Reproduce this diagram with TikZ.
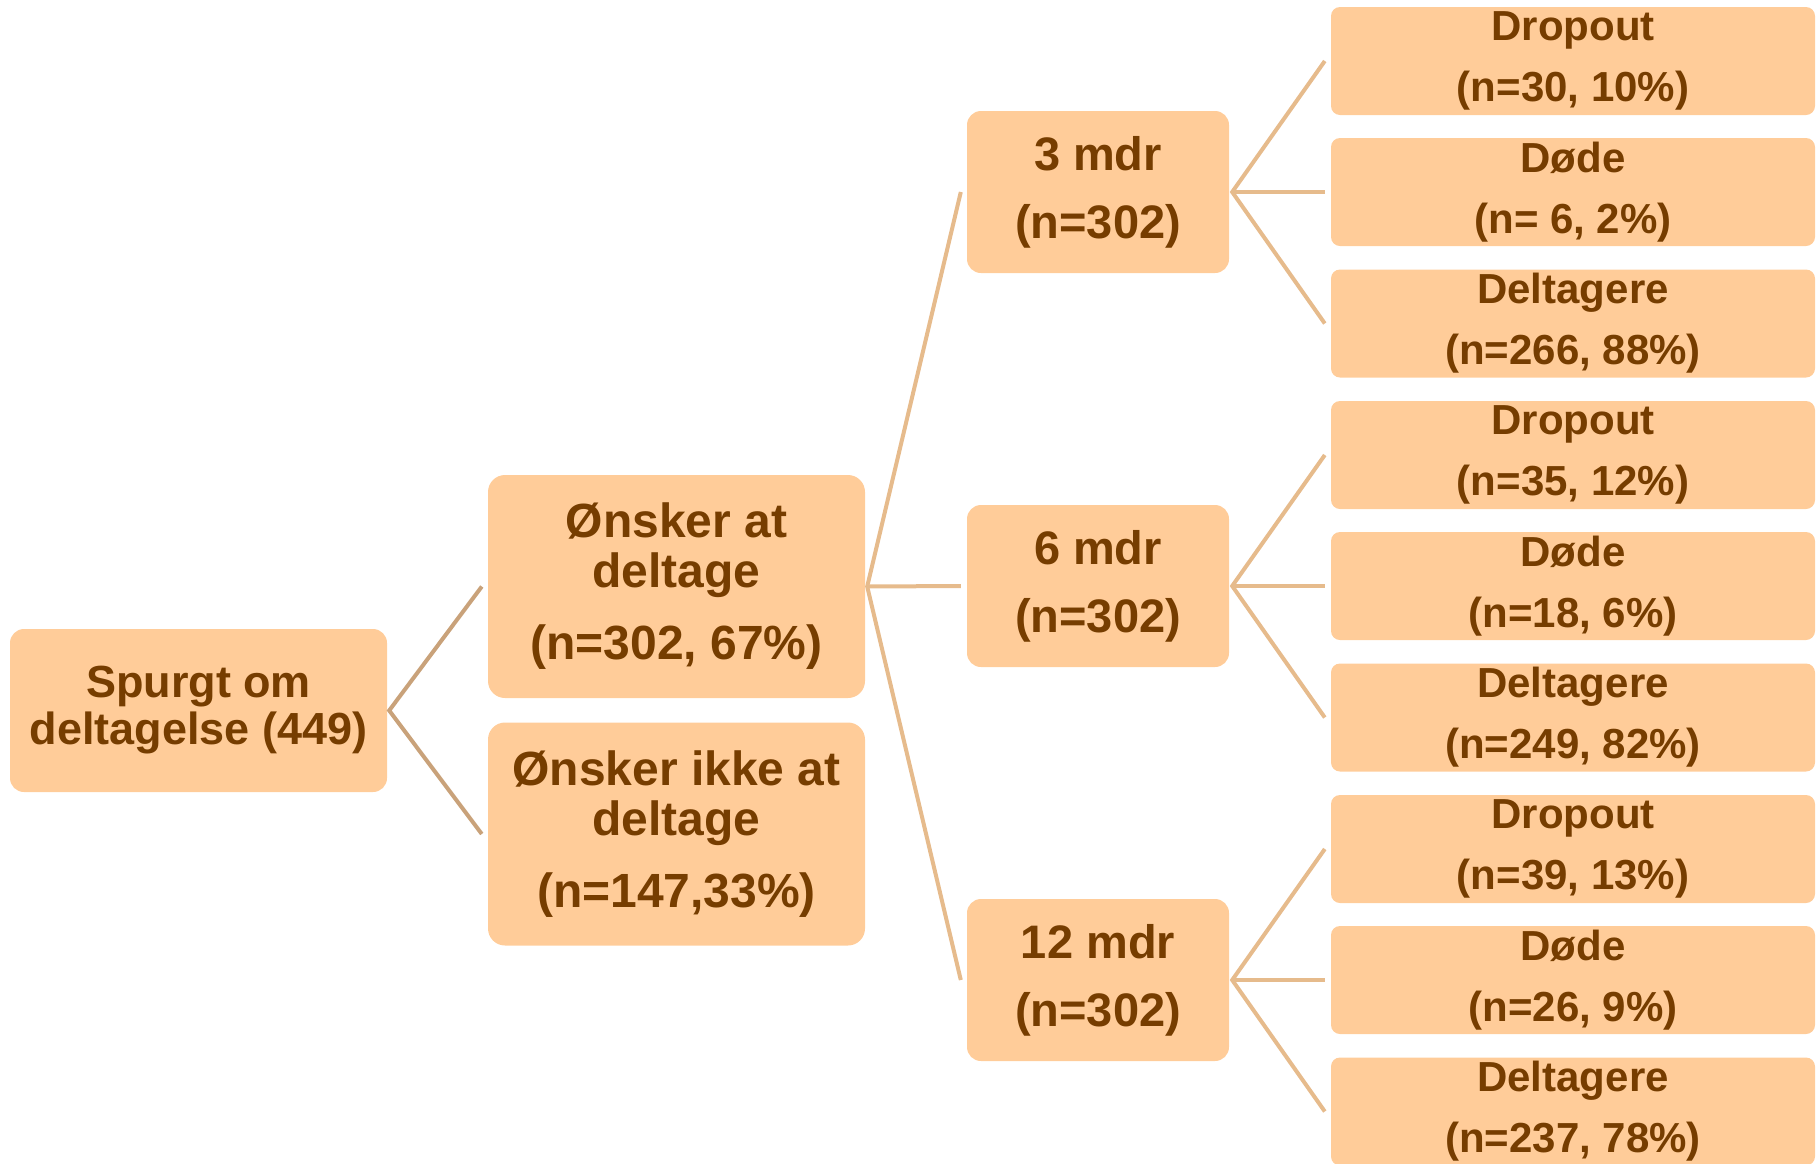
\documentclass[tikz,border=0pt]{standalone}
\usepackage{fontspec}
\setmainfont{Liberation Sans}
\usepackage{tikz}
\usetikzlibrary{positioning}
\usepackage{xcolor}

\definecolor{boxfill}{RGB}{255,204,153}
\definecolor{txtbrown}{RGB}{118,61,0}
\definecolor{rootline}{RGB}{201,162,122}
\definecolor{branchline}{RGB}{230,187,140}

\tikzset{
    box/.style={fill=boxfill, text=txtbrown, inner sep=0pt, align=center},
    rootbox/.style={box, rounded corners=14pt, minimum width=377pt, minimum height=163pt,
        font=\bfseries\fontsize{45}{47}\selectfont},
    choicebox/.style={box, rounded corners=17pt, minimum width=377pt, minimum height=223pt,
        font=\bfseries\fontsize{48}{50}\selectfont},
    timebox/.style={box, rounded corners=14pt, minimum width=262pt, minimum height=162pt,
        font=\bfseries\fontsize{47}{68}\selectfont},
    leafbox/.style={box, rounded corners=9pt, minimum width=484pt, minimum height=108pt,
        font=\bfseries\fontsize{42}{61}\selectfont},
    rootlink/.style={draw=rootline, line width=4pt},
    link/.style={draw=branchline, line width=4pt}
}

\begin{document}
\begin{tikzpicture}[x=1pt, y=-1pt]
    \useasboundingbox (0,0) rectangle (1816,1163);
    % first question
    \node[rootbox] (root) at (198.5,710.5) {Spurgt om\\deltagelse (449)};
    \node[choicebox] (want) at (676.5,586.5) {Ønsker at\\deltage\\[22pt](n=302, 67\%)};
    \node[choicebox] (nowant) at (676.5,834) {Ønsker ikke at\\deltage\\[22pt](n=147,33\%)};
    % follow up
    \node[timebox] (m3) at (1098,192) {3 mdr\\(n=302)};
    \node[timebox] (m6) at (1098,586) {6 mdr\\(n=302)};
    \node[timebox] (m12) at (1098,980) {12 mdr\\(n=302)};
    % 3 mdr
    \node[leafbox] (drop3) at (1573,61) {Dropout\\(n=30, 10\%)};
    \node[leafbox] (dead3) at (1573,192) {Døde\\(n= 6, 2\%)};
    \node[leafbox] (part3) at (1573,323.5) {Deltagere\\(n=266, 88\%)};
    % 6 mdr
    \node[leafbox] (drop6) at (1573,455) {Dropout\\(n=35, 12\%)};
    \node[leafbox] (dead6) at (1573,586) {Døde\\(n=18, 6\%)};
    \node[leafbox] (part6) at (1573,717.5) {Deltagere\\(n=249, 82\%)};
    % 12 mdr
    \node[leafbox] (drop12) at (1573,849) {Dropout\\(n=39, 13\%)};
    \node[leafbox] (dead12) at (1573,980) {Døde\\(n=26, 9\%)};
    \node[leafbox] (part12) at (1573,1111.5) {Deltagere\\(n=237, 78\%)};
    % lines
    \draw[rootlink] ([xshift=-6pt]want.west) -- ([xshift=2pt]root.east) -- ([xshift=-6pt]nowant.west);
    \draw[link] ([xshift=-6pt]m3.west) -- ([xshift=2pt]want.east) -- ([xshift=-6pt]m12.west);
    \draw[link] ([xshift=2pt]want.east) -- ([xshift=-6pt]m6.west);
    \draw[link] ([xshift=-6pt]drop3.west) -- ([xshift=3pt]m3.east) -- ([xshift=-6pt]part3.west);
    \draw[link] ([xshift=3pt]m3.east) -- ([xshift=-6pt]dead3.west);
    \draw[link] ([xshift=-6pt]drop6.west) -- ([xshift=3pt]m6.east) -- ([xshift=-6pt]part6.west);
    \draw[link] ([xshift=3pt]m6.east) -- ([xshift=-6pt]dead6.west);
    \draw[link] ([xshift=-6pt]drop12.west) -- ([xshift=3pt]m12.east) -- ([xshift=-6pt]part12.west);
    \draw[link] ([xshift=3pt]m12.east) -- ([xshift=-6pt]dead12.west);
\end{tikzpicture}
\end{document}
